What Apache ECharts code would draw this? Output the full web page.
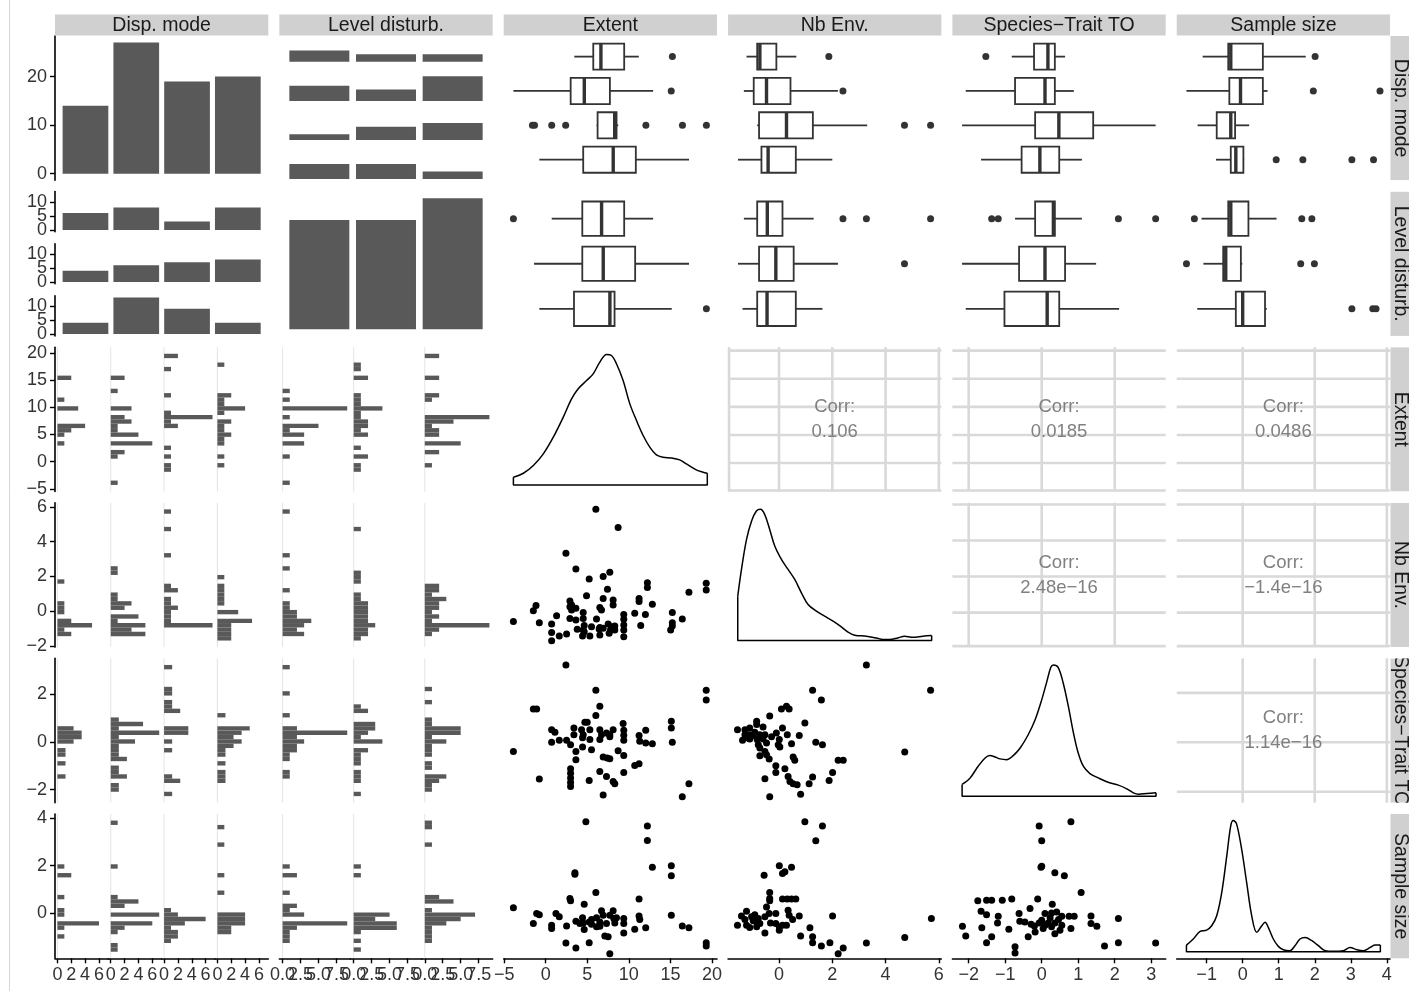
<!DOCTYPE html>
<html lang="en" style="height: 100%">
<head>
  <meta charset="utf-8">
</head>
<body style="height: 100%; margin: 0">
  <div id="container" style="width: 1409px; height: 991px"></div>

  <script type="text/javascript" src="https://cdn.jsdelivr.net/npm/echarts@6.0.0/dist/echarts.min.js"></script>

  <script type="text/javascript">
    // ---- data ----
    var varNames = ['Disp. mode', 'Level disturb.', 'Extent', 'Nb Env.', 'Species\u2212Trait TO', 'Sample size'];

    var dispCounts = [14, 27, 19, 20];
    var levelCounts = [25, 25, 30];
    // rows: disp. mode, cols: level disturb.
    var dispByLevel = [[6, 4, 4], [8, 6, 13], [3, 7, 9], [8, 8, 4]];

    // observed min / max of the continuous variables
    var extentLim = [-3.89, 19.44];
    var nbEnvLim = [-1.55, 5.73];
    var traitLim = [-2.18, 3.13];
    var sampleLim = [-1.56, 3.82];

    // tick labels
    var sideBreaks = [[-5, 0, 5, 10, 15, 20], [-2, 0, 2, 4, 6], [-2, 0, 2], [0, 2, 4]];
    var bottomBreaks = [[-5, 0, 5, 10, 15, 20], [-2, 0, 2, 4, 6], [-2, -1, 0, 1, 2, 3], [-1, 0, 1, 2, 3, 4]];
    var corrBreaks = [[-5, 0, 5, 10, 15, 20], [-2, 0, 2, 4, 6], [-2, 0, 2], [0, 2, 4]];
    var dispCountTicks = [0, 10, 20];
    var facetCountTicks = [0, 5, 10];
    var histDispTicks = [0, 2, 4, 6];
    var histLevelTicks = [0, 2.5, 5, 7.5];

    // boxplots: [lower whisker, Q1, median, Q3, upper whisker], groups top to bottom
    var boxExtentDisp = [[3.44, 5.72, 6.64, 9.44, 11.2], [-3.89, 3.0, 4.64, 7.72, 12.92], [6.12, 6.24, 8.3, 8.52, 8.72], [-0.77, 4.51, 8.12, 10.84, 17.24]];
    var outExtentDisp = [[15.24], [15.1], [-1.6, -1.35, 0.72, 2.4, 12.05, 16.45, 19.33], []];
    var boxNbEnvDisp = [[-1.22, -0.82, -0.72, -0.10, 0.65], [-1.32, -0.95, -0.47, 0.43, 2.21], [-0.82, -0.75, 0.28, 1.27, 3.31], [-1.54, -0.66, -0.41, 0.63, 2.0]];
    var outNbEnvDisp = [[1.87], [2.40], [4.71, 5.69], []];
    var boxTraitDisp = [[-0.82, -0.21, 0.17, 0.36, 0.64], [-2.08, -0.73, 0.09, 0.36, 0.88], [-2.18, -0.18, 0.47, 1.41, 3.12], [-1.66, -0.55, -0.05, 0.48, 1.10]];
    var outTraitDisp = [[-1.53], [], [], []];
    var boxSampleDisp = [[-1.11, -0.40, -0.33, 0.56, 1.75], [-1.56, -0.37, -0.06, 0.56, 0.69], [-1.25, -0.72, -0.33, -0.21, 0.18], [-0.74, -0.33, -0.19, 0.02, 0.04]];
    var outSampleDisp = [[2.01], [1.96, 3.81], [], [0.93, 1.67, 3.03, 3.63]];

    var boxExtentLevel = [[0.72, 4.40, 6.72, 9.44, 12.92], [-1.40, 4.40, 6.92, 10.76, 17.24], [-0.77, 3.40, 7.72, 8.28, 15.16]];
    var outExtentLevel = [[-3.89], [], [19.33]];
    var boxNbEnvLevel = [[-1.32, -0.82, -0.44, 0.13, 1.30], [-1.54, -0.75, -0.12, 0.55, 2.21], [-1.37, -0.82, -0.45, 0.63, 1.63]];
    var outNbEnvLevel = [[2.40, 3.28, 5.69], [4.71], []];
    var boxTraitLevel = [[-0.73, -0.18, 0.32, 0.36, 1.10], [-2.18, -0.62, 0.09, 0.64, 1.49], [-2.08, -1.02, 0.15, 0.48, 2.12]];
    var outTraitLevel = [[-1.37, -1.19, 2.10, 3.12], [], []];
    var boxSampleLevel = [[-1.14, -0.40, -0.33, 0.16, 0.94], [-1.09, -0.54, -0.47, -0.05, -0.01], [-1.26, -0.19, 0.0, 0.62, 0.67]];
    var outSampleLevel = [[-1.34, 1.64, 1.92], [-1.56, 1.61, 1.99], [3.03, 3.61, 3.70]];

    // histogram counts, 30 bins from the minimum upwards, one array per facet
    var histExtentDisp = [
      [0,0,0,0,0,0,0,0,0,1, 0,1,2,4,0,0,0,3,0,1, 0,0,0,0,2,0,0,0,0,0],
      [1,0,0,0,0,0,1,2,0,6, 0,4,1,1,3,2,0,3,0,0, 0,1,0,0,2,0,0,0,0,0],
      [0,0,0,1,1,0,1,0,1,0, 0,0,0,2,1,7,1,0,0,0, 1,0,0,0,0,0,1,0,0,2],
      [0,0,0,0,1,0,1,0,0,1, 1,2,1,1,2,0,1,4,1,1, 2,0,0,0,0,0,0,1,0,0]
    ];
    var histExtentLevel = [
      [1,0,0,0,0,0,1,0,0,3, 0,3,1,5,0,1,0,9,0,1, 0,1,0,0,0,0,0,0,0,0],
      [0,0,0,1,1,0,2,0,1,0, 0,2,1,2,2,1,1,4,1,1, 1,0,0,0,2,0,1,1,0,0],
      [0,0,0,0,1,0,0,2,0,5, 0,2,2,1,4,9,0,0,0,1, 2,0,0,0,2,0,0,0,0,2]
    ];
    var histNbEnvDisp = [
      [0,2,1,5,2,0,1,1,1,0, 0,0,0,1,0,0,0,0,0,0, 0,0,0,0,0,0,0,0,0,0],
      [0,5,3,5,1,4,0,2,3,1, 1,0,0,0,0,1,1,0,0,0, 0,0,0,0,0,0,0,0,0,0],
      [0,0,0,7,1,1,1,2,1,1, 0,2,1,0,0,0,0,0,0,1, 0,0,0,0,0,1,0,0,0,1],
      [2,2,2,2,5,0,3,0,1,1, 1,1,1,0,1,0,0,0,0,0, 0,0,0,0,0,0,0,0,0,0]
    ];
    var histNbEnvLevel = [
      [0,3,2,3,4,2,2,1,1,0, 0,1,0,0,0,0,1,0,0,1, 0,0,0,0,0,0,0,0,0,1],
      [1,2,2,3,2,2,2,2,2,1, 1,0,0,1,1,1,0,0,0,0, 0,0,0,0,0,1,0,0,0,0],
      [0,1,2,9,1,2,1,2,2,3, 1,2,2,0,0,0,0,0,0,0, 0,0,0,0,0,0,0,0,0,0]
    ];
    var histTraitDisp = [
      [0,0,0,0,1,0,0,1,0,1, 1,0,2,3,3,2,0,0,0,0, 0,0,0,0,0,0,0,0,0,0],
      [0,1,1,0,2,1,1,0,2,1, 1,1,3,1,6,1,4,1,0,0, 0,0,0,0,0,0,0,0,0,0],
      [1,0,0,2,1,0,0,0,0,0, 1,0,1,0,3,3,0,0,0,2, 1,1,0,1,1,0,0,0,0,1],
      [0,0,0,1,1,1,0,1,0,1, 1,2,3,2,3,4,0,0,1,0, 0,0,0,0,0,0,0,0,0,0]
    ];
    var histTraitLevel = [
      [0,0,0,0,1,1,0,0,1,1, 2,2,3,2,9,2,0,0,1,0, 0,0,0,1,0,0,0,0,0,1],
      [1,0,0,1,1,1,0,1,1,1, 2,0,4,1,2,3,3,0,0,2, 1,0,0,0,0,0,0,0,0,0],
      [0,1,1,2,3,0,1,1,0,1, 1,1,3,1,5,5,1,1,0,0, 0,1,0,0,1,0,0,0,0,0]
    ];
    var histSampleDisp = [
      [0,0,0,1,0,1,6,0,1,1, 0,0,1,0,0,0,0,2,0,1, 0,0,0,0,0,0,0,0,0,0],
      [1,1,0,0,1,2,6,0,7,0, 2,4,1,0,0,0,0,0,0,1, 0,0,0,0,0,0,0,0,0,1],
      [0,0,1,2,2,1,3,6,2,1, 0,0,0,0,0,0,0,0,0,0, 0,0,0,0,0,0,0,0,0,0],
      [0,0,0,0,2,2,4,4,4,0, 0,0,0,1,0,0,0,1,0,0, 0,0,0,0,1,0,0,0,1,0]
    ];
    var histSampleLevel = [
      [0,0,1,1,1,2,9,0,3,1, 2,0,0,1,0,0,0,2,0,1, 0,0,0,0,0,0,0,0,0,0],
      [1,0,1,0,1,6,6,3,5,0, 0,0,0,0,0,0,0,1,0,1, 0,0,0,0,0,0,0,0,0,0],
      [0,0,1,1,1,1,3,5,7,1, 0,4,2,0,0,0,0,0,0,0, 0,0,0,0,1,0,0,0,1,1]
    ];

    // density curves (x, relative height)
    var densExtentX = [-3.89, -2.69, -1.49, -0.29, 0.91, 2.11, 3.11, 3.91, 4.91, 5.71, 6.51, 7.31, 7.91, 8.51, 9.31, 10.12, 10.92, 11.72, 12.52, 13.32, 14.12, 15.12, 16.12, 16.92, 18.12, 18.92, 19.44];
    var densExtentY = [0.059, 0.089, 0.148, 0.237, 0.364, 0.517, 0.656, 0.733, 0.796, 0.847, 0.936, 0.995, 0.987, 0.924, 0.796, 0.618, 0.491, 0.377, 0.288, 0.229, 0.211, 0.206, 0.191, 0.160, 0.115, 0.097, 0.089];
    var densNbEnvX = [-1.55, -1.41, -1.22, -1.03, -0.85, -0.70, -0.54, -0.35, -0.16, 0.09, 0.34, 0.59, 0.84, 1.09, 1.40, 1.71, 2.03, 2.34, 2.59, 2.84, 3.28, 3.65, 3.90, 4.15, 4.46, 4.71, 5.02, 5.40, 5.73];
    var densNbEnvY = [0.338, 0.542, 0.771, 0.911, 0.987, 1.0, 0.962, 0.847, 0.720, 0.618, 0.542, 0.466, 0.364, 0.275, 0.224, 0.186, 0.148, 0.104, 0.064, 0.041, 0.033, 0.020, 0.008, 0.008, 0.020, 0.033, 0.025, 0.033, 0.038];
    var densTraitX = [-2.18, -1.96, -1.74, -1.55, -1.42, -1.28, -1.14, -0.96, -0.78, -0.59, -0.37, -0.18, 0.0, 0.14, 0.25, 0.32, 0.45, 0.59, 0.73, 0.87, 1.00, 1.14, 1.32, 1.55, 1.82, 2.10, 2.33, 2.51, 2.65, 2.88, 3.13];
    var densTraitY = [0.089, 0.139, 0.228, 0.291, 0.309, 0.299, 0.284, 0.278, 0.309, 0.367, 0.468, 0.582, 0.734, 0.873, 0.982, 1.0, 0.982, 0.861, 0.684, 0.481, 0.329, 0.228, 0.172, 0.139, 0.106, 0.084, 0.056, 0.025, 0.015, 0.020, 0.025];
    var densSampleX = [-1.56, -1.37, -1.19, -1.00, -0.86, -0.72, -0.58, -0.44, -0.33, -0.26, -0.17, -0.03, 0.11, 0.25, 0.39, 0.53, 0.62, 0.71, 0.85, 0.99, 1.13, 1.31, 1.45, 1.59, 1.73, 1.92, 2.10, 2.29, 2.52, 2.79, 2.98, 3.17, 3.35, 3.54, 3.68, 3.82];
    var densSampleY = [0.051, 0.097, 0.153, 0.165, 0.198, 0.275, 0.453, 0.733, 0.962, 1.0, 0.975, 0.784, 0.529, 0.275, 0.148, 0.198, 0.224, 0.186, 0.097, 0.041, 0.015, 0.008, 0.046, 0.097, 0.109, 0.084, 0.046, 0.008, 0.003, 0.008, 0.033, 0.015, 0.008, 0.033, 0.051, 0.051];

    // scatter plots [x, y]
    var scExtNb = [[6.03,5.74],[8.71,4.72],[2.43,3.29],[3.63,2.42],[5.23,1.87],[6.91,2.0],[7.71,2.24],[7.43,1.29],[4.91,0.94],[12.23,1.66],[12.23,1.40],[17.23,1.13],[19.31,1.63],[19.31,1.26],[6.91,0.79],[8.11,0.70],[8.11,0.42],[11.23,0.79],[11.23,0.61],[12.83,0.46],[6.51,0.28],[2.91,0.65],[2.91,0.33],[3.11,0.15],[3.63,0.24],[-1.17,0.39],[-1.49,0.11],[-3.89,-0.50],[-0.77,-0.56],[0.71,-0.63],[1.31,-0.17],[2.91,-0.32],[3.63,-0.41],[4.51,0.0],[4.51,-0.32],[6.11,-0.35],[4.63,-0.72],[4.51,-0.97],[5.51,-0.78],[6.51,-0.82],[6.91,-0.87],[7.51,-0.63],[7.91,-0.78],[8.31,-0.74],[9.39,-0.10],[9.39,-0.37],[9.39,-0.69],[9.39,-0.97],[9.39,-1.34],[10.71,-0.04],[11.99,-0.10],[11.43,-0.72],[15.23,0.0],[15.23,-0.56],[15.23,-0.74],[15.03,-0.97],[16.43,-0.35],[0.71,-1.11],[0.71,-1.56],[1.63,-1.30],[2.51,-1.19],[4.43,-1.30],[5.31,-1.30],[6.51,-1.24],[7.63,-1.15],[7.79,-0.97],[4.63,-1.06],[3.11,0.42],[6.71,0.15],[6.43,-0.91],[8.31,-0.97],[3.79,-0.93]];
    var scExtTrait = [[2.43,3.13],[6.03,2.11],[19.31,2.11],[19.31,1.71],[6.51,1.46],[-1.49,1.35],[-1.09,1.35],[6.03,1.08],[15.11,0.85],[15.11,0.58],[9.31,0.76],[4.71,0.81],[4.99,0.81],[3.39,0.58],[0.71,0.51],[1.11,0.41],[4.31,0.51],[5.31,0.51],[6.51,0.51],[8.11,0.51],[9.39,0.49],[12.03,0.49],[3.39,0.31],[4.51,0.31],[6.71,0.31],[7.31,0.38],[7.71,0.31],[9.39,0.28],[11.23,0.27],[0.71,0.0],[1.63,0.08],[2.51,0.08],[2.99,-0.10],[4.43,0.18],[5.31,0.11],[6.51,0.11],[7.71,0.22],[9.39,0.08],[11.31,0.04],[12.03,-0.03],[12.83,-0.06],[15.23,0.0],[-3.89,-0.37],[3.63,-0.37],[4.43,-0.19],[5.51,-0.30],[8.71,-0.34],[9.39,-0.53],[6.91,-0.60],[7.39,-0.64],[7.71,-0.67],[3.63,-0.71],[10.71,-0.94],[11.23,-0.87],[2.99,-1.07],[2.99,-1.25],[6.51,-1.18],[7.31,-1.38],[8.11,-1.59],[8.31,-1.68],[2.99,-1.45],[2.99,-1.63],[2.99,-1.79],[-0.77,-1.49],[5.23,-1.55],[9.39,-1.22],[6.91,-2.13],[16.43,-2.20],[17.23,-1.68]];
    var scExtSample = [[4.83,3.77],[12.23,3.60],[12.23,3.0],[12.83,1.90],[15.11,1.97],[15.11,1.56],[3.51,1.68],[3.51,1.62],[6.03,0.87],[2.91,0.62],[2.99,0.53],[4.63,0.39],[11.23,0.60],[-3.89,0.24],[-1.09,0.01],[-0.77,-0.04],[1.23,0.01],[1.63,-0.13],[-1.49,-0.40],[0.71,-0.47],[0.71,-0.61],[2.51,-0.50],[3.63,-0.31],[4.43,-0.17],[4.51,-0.38],[4.63,-0.65],[5.23,-0.34],[5.51,-0.43],[5.51,-0.24],[6.11,-0.17],[6.51,-0.34],[6.51,-0.51],[6.71,0.12],[6.91,-0.06],[7.31,-0.40],[7.71,-0.06],[8.11,0.12],[8.19,-0.20],[8.31,-0.38],[8.51,-0.17],[9.39,-0.20],[9.39,-0.40],[7.11,-0.91],[7.51,-0.95],[9.39,-0.79],[10.71,-0.64],[11.23,-0.09],[11.31,-0.24],[12.03,-0.58],[15.11,-0.06],[16.43,-0.50],[17.23,-0.58],[19.31,-1.19],[19.31,-1.32],[2.43,-1.20],[3.63,-1.41],[5.23,-1.19],[7.71,-1.64],[4.11,-0.40],[6.11,-0.54]];
    var scNbTrait = [[3.28,3.13],[1.26,2.11],[1.59,1.71],[5.69,2.11],[0.09,1.35],[0.28,1.46],[0.38,1.35],[-0.35,1.06],[0.97,0.78],[-0.84,0.85],[-1.56,0.51],[-1.28,0.51],[-1.10,0.58],[-0.84,0.72],[-0.60,0.62],[-1.28,0.31],[-1.10,0.31],[-0.91,0.41],[-0.72,0.31],[-0.53,0.31],[0.13,0.58],[0.31,0.31],[-0.10,0.38],[0.76,0.27],[-1.37,0.08],[-1.10,0.13],[-0.82,0.11],[-0.60,0.13],[-0.28,0.22],[0.01,0.11],[-0.03,-0.10],[0.03,-0.19],[0.47,-0.06],[1.38,0.0],[1.63,-0.10],[-0.72,-0.23],[-0.53,-0.37],[-0.72,-0.54],[-0.47,-0.50],[-0.37,-0.68],[4.72,-0.39],[0.53,-0.60],[0.59,-0.73],[2.22,-0.73],[2.41,-0.73],[-0.12,-0.95],[-0.12,-1.22],[0.22,-1.07],[0.34,-1.38],[0.41,-1.59],[0.53,-1.68],[0.68,-1.72],[1.26,-1.41],[1.13,-1.68],[2.01,-1.22],[1.88,-1.55],[-0.53,-1.48],[-0.35,-2.20],[0.81,-2.10],[-0.97,0.27],[-0.78,-0.10],[-1.16,0.17],[-0.47,-0.03]];
    var scNbSample = [[0.97,3.77],[1.63,3.60],[1.38,2.99],[0.01,1.97],[0.47,1.90],[0.13,1.65],[0.22,1.72],[-0.56,1.58],[-0.35,0.87],[-0.35,0.62],[-0.35,0.53],[0.13,0.60],[0.31,0.60],[0.47,0.60],[0.63,0.60],[-0.47,0.28],[-0.12,0.01],[-1.22,0.10],[-1.41,-0.09],[-1.28,-0.24],[-1.03,-0.13],[-0.91,-0.04],[-0.78,-0.20],[-0.53,-0.13],[-0.37,0.01],[-0.84,-0.34],[-1.22,-0.47],[-1.56,-0.47],[-1.10,-0.57],[-0.84,-0.54],[-0.53,-0.79],[-0.32,-0.38],[-0.12,-0.40],[0.01,-0.54],[0.13,-0.47],[0.28,-0.47],[0.38,-0.06],[0.51,-0.24],[0.76,-0.09],[2.01,-0.09],[5.72,-0.20],[0.01,-0.68],[1.16,-0.58],[0.81,-0.91],[1.26,-0.95],[1.26,-1.19],[1.59,-1.32],[1.91,-1.19],[3.28,-1.20],[4.72,-0.98],[2.41,-1.41],[2.22,-1.64],[-0.72,-0.40],[-0.97,-0.29],[0.34,0.14]];
    var scTraitSample = [[0.80,3.77],[-0.07,3.60],[0.0,2.99],[0.0,1.95],[-0.02,1.90],[0.36,1.68],[0.62,1.56],[1.08,0.87],[-1.75,0.53],[-1.51,0.55],[-1.37,0.55],[-1.08,0.55],[-0.82,0.60],[-0.11,0.60],[0.29,0.39],[-1.66,0.10],[-1.51,-0.04],[-1.19,-0.10],[-0.62,0.01],[-0.32,0.21],[0.09,0.01],[0.27,0.03],[0.41,0.07],[0.55,-0.10],[0.75,-0.10],[0.89,-0.10],[1.35,-0.09],[-2.17,-0.51],[-2.08,-0.91],[-1.64,-0.58],[-1.51,-1.19],[-1.37,-0.95],[-1.21,-0.38],[-0.90,-0.64],[-0.60,-0.31],[-0.46,-0.34],[-0.37,-0.95],[-0.20,-0.50],[-0.18,-0.75],[-0.07,-0.38],[0.0,-0.27],[0.09,-0.47],[0.18,-0.38],[0.27,-0.54],[0.36,-0.38],[0.36,-0.82],[0.46,-0.24],[0.55,-0.47],[0.50,-0.68],[0.80,-0.61],[1.35,-0.40],[1.51,-0.51],[1.72,-1.32],[2.10,-0.20],[2.10,-1.19],[3.12,-1.20],[-0.73,-1.36],[-0.73,-1.61],[-0.29,-0.43],[0.04,-0.61],[0.23,-0.17]];

    // correlation labels (upper triangle), keyed "row-col" of the continuous block
    var corrLabels = {'0-1': '0.106', '0-2': '0.0185', '0-3': '0.0486', '1-2': '2.48e\u221216', '1-3': '\u22121.4e\u221216', '2-3': '1.14e\u221216'};

    // ---- layout / styling ----
    var FONT = '"Liberation Sans", Arial, Helvetica, sans-serif';
    var INK = '#595959';
    var STRIP = '#d0d0d0';
    var LABEL = '#333333';
    var PW = 213.3, PH = 144.3, FGAP = 12, BOX_HALF = 0.38;
    function colLeft(i) { return 55 + 224.35 * i; }
    function rowTop(j) { return 36 + 155.6 * j; }

    var contLims = [extentLim, nbEnvLim, traitLim, sampleLim];
    var boxDisp = [boxExtentDisp, boxNbEnvDisp, boxTraitDisp, boxSampleDisp];
    var outDisp = [outExtentDisp, outNbEnvDisp, outTraitDisp, outSampleDisp];
    var boxLevel = [boxExtentLevel, boxNbEnvLevel, boxTraitLevel, boxSampleLevel];
    var outLevel = [outExtentLevel, outNbEnvLevel, outTraitLevel, outSampleLevel];
    var histDisp = [histExtentDisp, histNbEnvDisp, histTraitDisp, histSampleDisp];
    var histLevel = [histExtentLevel, histNbEnvLevel, histTraitLevel, histSampleLevel];
    var densX = [densExtentX, densNbEnvX, densTraitX, densSampleX];
    var densY = [densExtentY, densNbEnvY, densTraitY, densSampleY];
    var scatterSets = {'1-0': scExtNb, '2-0': scExtTrait, '3-0': scExtSample, '2-1': scNbTrait, '3-1': scNbSample, '3-2': scTraitSample};

    function minusFmt(v) { return String(v).replace('-', '\u2212'); }
    function oneDec(v) { return v.toFixed(1); }
    function maxOf(arrs) { return Math.max.apply(null, arrs.map(function (a) { return Math.max.apply(null, a); })); }
    function countRange(m) { return [-0.05 * m, 1.05 * m]; }
    function dataRange(lim) { var e = 0.05 * (lim[1] - lim[0]); return [lim[0] - e, lim[1] + e]; }
    function binWidth(lim) { return (lim[1] - lim[0]) / 29; }
    function histRange(lim) {
      var bw = binWidth(lim), a = lim[0] - bw / 2, b = lim[1] + bw / 2, e = 0.05 * (b - a);
      return [a - e, b + e];
    }
    function inRange(ticks, r) { return ticks.filter(function (t) { return t >= r[0] && t <= r[1]; }); }

    // manual = true: axis draws line and ticks, labels come from a custom series
    // (lets tightly packed labels overlap the way the original does)
    function mkAxis(min, max, ticks, fmt, inverse, manual) {
      var a = {
        type: 'value', min: min, max: max, inverse: !!inverse,
        splitLine: { show: false }, axisPointer: { show: false },
        axisLine: { show: false }, axisTick: { show: false }, axisLabel: { show: false }
      };
      if (ticks) {
        ticks = inRange(ticks, [min, max]);
        a.axisLine = { show: true, onZero: false, lineStyle: { color: '#000', width: 1.6 } };
        a.axisTick = { show: true, length: 5, customValues: ticks, lineStyle: { color: '#000', width: 1.4 } };
        a.axisLabel = {
          show: !manual, customValues: ticks, margin: 8, hideOverlap: false,
          showMinLabel: true, showMaxLabel: true,
          color: LABEL, fontSize: 18, fontFamily: FONT, formatter: fmt || minusFmt
        };
      }
      return a;
    }

    var grids = [], xAxes = [], yAxes = [], series = [];
    function addGrid(l, t, w, h, xa, ya) {
      var i = grids.length;
      grids.push({ left: l, top: t, width: w, height: h, containLabel: false, outerBoundsMode: 'none' });
      xa.gridIndex = i; ya.gridIndex = i;
      xAxes.push(xa); yAxes.push(ya);
      return i;
    }

    function tickLabels(g, ticks, fmt, dim, xr, yr) {
      ticks = inRange(ticks, dim === 'x' ? xr : yr);
      var xm = (xr[0] + xr[1]) / 2, ym = (yr[0] + yr[1]) / 2;
      return {
        type: 'custom', xAxisIndex: g, yAxisIndex: g, silent: true, z: 5, clip: false,
        data: ticks.map(function (t) { return dim === 'x' ? [t, ym] : [xm, t]; }),
        renderItem: function (p, api) {
          var cs = p.coordSys, pt = api.coord([api.value(0), api.value(1)]);
          var val = dim === 'x' ? api.value(0) : api.value(1);
          var st = { text: fmt(val), fill: LABEL, fontSize: 18, fontFamily: FONT };
          if (dim === 'x') {
            st.align = 'center'; st.verticalAlign = 'top';
            return { type: 'text', x: pt[0], y: cs.y + cs.height + 8, style: st };
          }
          st.align = 'right'; st.verticalAlign = 'middle';
          return { type: 'text', x: cs.x - 8, y: pt[1], style: st };
        }
      };
    }

    function colBars(g, counts) {
      return {
        type: 'custom', xAxisIndex: g, yAxisIndex: g, silent: true,
        data: counts.map(function (c, i) { return [i + 1, c]; }),
        renderItem: function (p, api) {
          var a = api.coord([api.value(0) - 0.45, api.value(1)]);
          var b = api.coord([api.value(0) + 0.45, 0]);
          return { type: 'rect', shape: { x: a[0], y: a[1], width: b[0] - a[0], height: b[1] - a[1] }, style: { fill: INK } };
        }
      };
    }

    function histBars(g, counts, lo, bw) {
      var data = [];
      counts.forEach(function (c, k) { if (c > 0) data.push([c, lo + k * bw]); });
      return {
        type: 'custom', xAxisIndex: g, yAxisIndex: g, silent: true, data: data,
        renderItem: function (p, api) {
          var a = api.coord([0, api.value(1) + bw / 2]);
          var b = api.coord([api.value(0), api.value(1) - bw / 2]);
          return { type: 'rect', shape: { x: a[0], y: a[1], width: b[0] - a[0], height: b[1] - a[1] }, style: { fill: INK } };
        }
      };
    }

    function zeroLine(g, yr) {
      return {
        type: 'custom', xAxisIndex: g, yAxisIndex: g, silent: true, z: 1,
        data: [[0, (yr[0] + yr[1]) / 2]],
        renderItem: function (p, api) {
          var cs = p.coordSys, x = api.coord([0, api.value(1)])[0];
          return { type: 'line', shape: { x1: x, y1: cs.y, x2: x, y2: cs.y + cs.height }, style: { stroke: '#e4e4e4', lineWidth: 1 } };
        }
      };
    }

    function boxSeries(g, stats) {
      return {
        type: 'custom', xAxisIndex: g, yAxisIndex: g, silent: true,
        data: stats.map(function (s, i) { return [s[2], i + 1].concat(s); }),
        renderItem: function (p, api) {
          var y = api.value(1);
          var lo = api.coord([api.value(2), y]), q1 = api.coord([api.value(3), y]);
          var md = api.coord([api.value(4), y]), q3 = api.coord([api.value(5), y]);
          var hi = api.coord([api.value(6), y]);
          var t = api.coord([api.value(3), y - BOX_HALF])[1], b = api.coord([api.value(3), y + BOX_HALF])[1];
          var top = Math.min(t, b), h = Math.abs(b - t);
          var st = { stroke: '#333333', lineWidth: 1.8 };
          return {
            type: 'group', children: [
              { type: 'line', shape: { x1: lo[0], y1: lo[1], x2: q1[0], y2: q1[1] }, style: st },
              { type: 'line', shape: { x1: q3[0], y1: q3[1], x2: hi[0], y2: hi[1] }, style: st },
              { type: 'rect', shape: { x: q1[0], y: top, width: q3[0] - q1[0], height: h }, style: { fill: '#fff', stroke: '#333333', lineWidth: 1.8 } },
              { type: 'line', shape: { x1: md[0], y1: top, x2: md[0], y2: top + h }, style: { stroke: '#333333', lineWidth: 3.4 } }
            ]
          };
        }
      };
    }

    function outlierSeries(g, outs) {
      var data = [];
      outs.forEach(function (list, i) { list.forEach(function (v) { data.push([v, i + 1]); }); });
      return { type: 'scatter', xAxisIndex: g, yAxisIndex: g, silent: true, data: data, symbolSize: 7, itemStyle: { color: '#333333', opacity: 1 } };
    }

    function corrGrid(g, xb, yb, xr, yr) {
      return {
        type: 'custom', xAxisIndex: g, yAxisIndex: g, silent: true, z: 1,
        data: [[(xr[0] + xr[1]) / 2, (yr[0] + yr[1]) / 2]],
        renderItem: function (p, api) {
          var cs = p.coordSys, ch = [], st = { stroke: '#d9d9d9', lineWidth: 2.6 };
          var xs = 0.03 * (xr[1] - xr[0]), ys = 0.03 * (yr[1] - yr[0]);
          xb.forEach(function (v) {
            if (v < xr[0] - xs || v > xr[1] + xs) return;
            var x = Math.min(Math.max(api.coord([v, yr[0]])[0], cs.x + 1), cs.x + cs.width - 1);
            ch.push({ type: 'line', shape: { x1: x, y1: cs.y, x2: x, y2: cs.y + cs.height }, style: st });
          });
          yb.forEach(function (v) {
            if (v < yr[0] - ys || v > yr[1] + ys) return;
            var y = Math.min(Math.max(api.coord([xr[0], v])[1], cs.y + 1), cs.y + cs.height - 1);
            ch.push({ type: 'line', shape: { x1: cs.x, y1: y, x2: cs.x + cs.width, y2: y }, style: st });
          });
          return { type: 'group', children: ch };
        }
      };
    }

    function corrText(g, label, xr, yr) {
      return {
        type: 'custom', xAxisIndex: g, yAxisIndex: g, silent: true, z: 3,
        data: [[(xr[0] + xr[1]) / 2, (yr[0] + yr[1]) / 2]],
        renderItem: function (p, api) {
          var c = api.coord([api.value(0), api.value(1)]);
          return {
            type: 'text', x: c[0], y: c[1],
            style: { text: 'Corr:\n' + label, fill: '#808080', fontSize: 18.5, fontFamily: FONT, align: 'center', verticalAlign: 'middle', lineHeight: 25 }
          };
        }
      };
    }

    // ---- row 1: Disp. mode ----
    var nD = dispCounts.length, nL = levelCounts.length;
    var r1 = countRange(Math.max.apply(null, dispCounts));
    var g = addGrid(colLeft(0), rowTop(0), PW, PH, mkAxis(0.4, nD + 0.6), mkAxis(r1[0], r1[1], dispCountTicks));
    series.push(colBars(g, dispCounts));

    var facetRange = countRange(maxOf(dispByLevel));
    var fh1 = (PH - (nD - 1) * FGAP) / nD;
    dispByLevel.forEach(function (row, f) {
      var gi = addGrid(colLeft(1), rowTop(0) + f * (fh1 + FGAP), PW, fh1, mkAxis(0.4, nL + 0.6), mkAxis(facetRange[0], facetRange[1]));
      series.push(colBars(gi, row));
    });

    // ---- row 2: Level disturb. ----
    var levelByDisp = levelCounts.map(function (_, l) { return dispByLevel.map(function (r) { return r[l]; }); });
    var fh2 = (PH - (nL - 1) * FGAP) / nL;
    levelByDisp.forEach(function (row, f) {
      var gi = addGrid(colLeft(0), rowTop(1) + f * (fh2 + FGAP), PW, fh2, mkAxis(0.4, nD + 0.6),
        mkAxis(facetRange[0], facetRange[1], facetCountTicks, null, false, true));
      series.push(colBars(gi, row));
      series.push(tickLabels(gi, facetCountTicks, minusFmt, 'y', [0.4, nD + 0.6], facetRange));
    });
    var r2 = countRange(Math.max.apply(null, levelCounts));
    g = addGrid(colLeft(1), rowTop(1), PW, PH, mkAxis(0.4, nL + 0.6), mkAxis(r2[0], r2[1]));
    series.push(colBars(g, levelCounts));

    // boxplots in rows 1-2
    [[boxDisp, outDisp, nD, 0], [boxLevel, outLevel, nL, 1]].forEach(function (spec) {
      for (var c = 0; c < 4; c++) {
        var xr = dataRange(contLims[c]);
        var gi = addGrid(colLeft(c + 2), rowTop(spec[3]), PW, PH, mkAxis(xr[0], xr[1]), mkAxis(0.4, spec[2] + 0.6, null, null, true));
        series.push(boxSeries(gi, spec[0][c]));
        series.push(outlierSeries(gi, spec[1][c]));
      }
    });

    // ---- rows 3-6: continuous variables ----
    for (var v = 0; v < 4; v++) {
      var row = v + 2, last = row === 5;
      var lim = contLims[v], hr = histRange(lim), bw = binWidth(lim);

      var cd = countRange(maxOf(histDisp[v])), wd = PW / histDisp[v].length;
      histDisp[v].forEach(function (counts, f) {
        var gi = addGrid(colLeft(0) + f * wd, rowTop(row), wd, PH,
          mkAxis(cd[0], cd[1], last ? histDispTicks : null, null, false, true),
          mkAxis(hr[0], hr[1], f === 0 ? sideBreaks[v] : null));
        series.push(zeroLine(gi, hr));
        series.push(histBars(gi, counts, lim[0], bw));
        if (last) series.push(tickLabels(gi, histDispTicks, minusFmt, 'x', cd, hr));
      });

      var cl = countRange(maxOf(histLevel[v])), wl = PW / histLevel[v].length;
      histLevel[v].forEach(function (counts, f) {
        var gi = addGrid(colLeft(1) + f * wl, rowTop(row), wl, PH,
          mkAxis(cl[0], cl[1], last ? histLevelTicks : null, oneDec, false, true),
          mkAxis(hr[0], hr[1]));
        series.push(zeroLine(gi, hr));
        series.push(histBars(gi, counts, lim[0], bw));
        if (last) series.push(tickLabels(gi, histLevelTicks, oneDec, 'x', cl, hr));
      });

      for (var c = 0; c < 4; c++) {
        var xr = dataRange(contLims[c]);
        var xa = mkAxis(xr[0], xr[1], last ? bottomBreaks[c] : null);
        if (c === v) {
          var gi = addGrid(colLeft(c + 2), rowTop(row), PW, PH, xa, mkAxis(-0.05, 1.05));
          var xs = densX[v], ys = densY[v], n = xs.length;
          series.push({
            type: 'line', xAxisIndex: gi, yAxisIndex: gi, silent: true, symbol: 'none', smooth: 0.35,
            data: xs.map(function (x, k) { return [x, ys[k]]; }),
            lineStyle: { color: '#000', width: 1.5 }
          });
          series.push({
            type: 'line', xAxisIndex: gi, yAxisIndex: gi, silent: true, symbol: 'none',
            data: [[xs[0], ys[0]], [xs[0], 0], [xs[n - 1], 0], [xs[n - 1], ys[n - 1]]],
            lineStyle: { color: '#000', width: 1.5 }
          });
        } else {
          var yr = dataRange(lim);
          var gi2 = addGrid(colLeft(c + 2), rowTop(row), PW, PH, xa, mkAxis(yr[0], yr[1]));
          if (c < v) {
            series.push({
              type: 'scatter', xAxisIndex: gi2, yAxisIndex: gi2, silent: true,
              data: scatterSets[v + '-' + c], symbolSize: 7, itemStyle: { color: '#000', opacity: 1 }
            });
          } else {
            series.push(corrGrid(gi2, corrBreaks[c], corrBreaks[v], xr, yr));
            series.push(corrText(gi2, corrLabels[v + '-' + c], xr, yr));
          }
        }
      }
    }

    // ---- strips and frame ----
    var graphics = [
      { type: 'line', shape: { x1: 9.5, y1: 0, x2: 9.5, y2: 991 }, style: { stroke: '#d6d6d6', lineWidth: 1 }, z: 5 }
    ];
    varNames.forEach(function (name, i) {
      graphics.push({ type: 'rect', shape: { x: colLeft(i), y: 14.5, width: PW, height: 21 }, style: { fill: STRIP }, z: 10 });
      graphics.push({ type: 'text', x: colLeft(i) + PW / 2, y: 25.5, z: 11,
        style: { text: name, fill: '#1a1a1a', fontSize: 19.5, fontFamily: FONT, align: 'center', verticalAlign: 'middle' } });
      graphics.push({ type: 'rect', shape: { x: 1390.5, y: rowTop(i), width: 22, height: PH }, style: { fill: STRIP }, z: 10 });
      graphics.push({ type: 'text', x: 1400, y: rowTop(i) + PH / 2, rotation: -Math.PI / 2, z: 11,
        style: { text: name, fill: '#1a1a1a', fontSize: 19.5, fontFamily: FONT, align: 'center', verticalAlign: 'middle' } });
      if (i < varNames.length - 1) {
        graphics.push({ type: 'rect', shape: { x: 1389, y: rowTop(i) + PH, width: 22, height: rowTop(i + 1) - rowTop(i) - PH }, style: { fill: '#fff' }, z: 20 });
      }
    });

    var dom = document.getElementById('container');
    var myChart = echarts.init(dom, null, { renderer: 'canvas' });
    var option = {
      animation: false,
      backgroundColor: '#ffffff',
      grid: grids,
      xAxis: xAxes,
      yAxis: yAxes,
      series: series,
      graphic: graphics
    };
    myChart.setOption(option);
    window.addEventListener('resize', myChart.resize);
  </script>
</body>
</html>
